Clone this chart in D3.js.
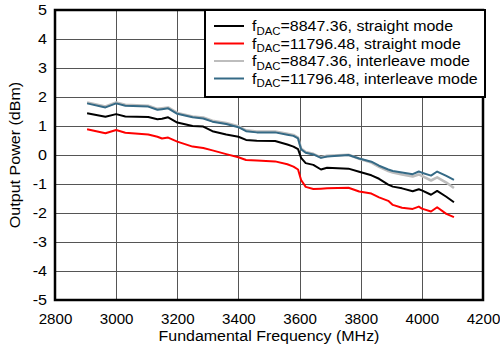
<!DOCTYPE html>
<html>
<head>
<meta charset="utf-8">
<script src="https://cdnjs.cloudflare.com/ajax/libs/d3/7.8.5/d3.min.js"></script>
<style>
  body { margin: 0; background: #fff; }
  svg { font-family: "Liberation Sans", Arial, Helvetica, sans-serif; }
  .grid line { stroke: #555; stroke-width: 1; shape-rendering: crispEdges; }
  .grid path { display: none; }
  .tick text { font-size: 14px; fill: #000; }
</style>
</head>
<body>
<script>
var width = 500;
var height = 349;

// frequency points (MHz)
var freq = [2905, 2965, 3000, 3030, 3105, 3135, 3150, 3170, 3200, 3250, 3285, 3315, 3360, 3400,
  3425, 3460, 3520, 3560, 3580, 3595, 3605, 3620, 3645, 3670, 3690, 3760, 3795, 3835, 3860,
  3890, 3905, 3935, 3970, 3990, 4000, 4030, 4050, 4080, 4105];

// output power (dBm) per series
var straight8847 = [1.44, 1.32, 1.41, 1.33, 1.31, 1.23, 1.25, 1.30, 1.12, 1.00, 0.98, 0.82, 0.71, 0.63,
  0.52, 0.49, 0.48, 0.36, 0.29, 0.20, -0.10, -0.28, -0.34, -0.50, -0.44, -0.47, -0.58, -0.70, -0.82,
  -1.02, -1.09, -1.15, -1.25, -1.18, -1.22, -1.37, -1.24, -1.44, -1.63];
var straight11796 = [0.89, 0.75, 0.86, 0.77, 0.71, 0.63, 0.57, 0.60, 0.46, 0.29, 0.24, 0.16, 0.03, -0.08,
  -0.17, -0.19, -0.22, -0.32, -0.40, -0.50, -0.86, -1.10, -1.17, -1.16, -1.15, -1.13, -1.26, -1.33, -1.46,
  -1.58, -1.72, -1.82, -1.86, -1.78, -1.85, -1.95, -1.80, -2.03, -2.14];
var interleave8847 = [1.81, 1.67, 1.81, 1.73, 1.70, 1.59, 1.61, 1.64, 1.45, 1.33, 1.29, 1.18, 1.10, 0.99,
  0.85, 0.81, 0.81, 0.73, 0.69, 0.60, 0.22, 0.10, 0.04, -0.08, -0.03, 0.01, -0.13, -0.26, -0.41,
  -0.55, -0.60, -0.67, -0.74, -0.67, -0.72, -0.88, -0.77, -0.95, -1.14];
var interleave11796 = [1.78, 1.64, 1.78, 1.70, 1.67, 1.56, 1.58, 1.61, 1.42, 1.30, 1.26, 1.15, 1.07, 0.96,
  0.82, 0.78, 0.78, 0.70, 0.66, 0.57, 0.20, 0.08, 0.02, -0.10, -0.05, 0.00, -0.12, -0.23, -0.37,
  -0.50, -0.55, -0.60, -0.66, -0.57, -0.61, -0.71, -0.57, -0.72, -0.86];

var xTicks = [2800, 3000, 3200, 3400, 3600, 3800, 4000, 4200];
var yTicks = [-5, -4, -3, -2, -1, 0, 1, 2, 3, 4, 5];

// draw order: gray goes under the blue one
var series = [
  {rate: "8847.36", mode: "straight mode", values: straight8847, color: "#000000", w: 2},
  {rate: "11796.48", mode: "straight mode", values: straight11796, color: "#ff0000", w: 2},
  {rate: "8847.36", mode: "interleave mode", values: interleave8847, color: "#bdbdbd", w: 2.6},
  {rate: "11796.48", mode: "interleave mode", values: interleave11796, color: "#356a86", w: 2}
];

var margin = {left: 55, top: 10, right: 17, bottom: 49};
var w = width - margin.left - margin.right;
var h = height - margin.top - margin.bottom;

var x = d3.scaleLinear().domain([2800, 4200]).range([0, w]);
var y = d3.scaleLinear().domain([-5, 5]).range([h, 0]);

// the original lettering is drawn wider than the font, stretch it out
function stretch(sel, k) {
  sel.each(function () {
    var len = this.getComputedTextLength();
    d3.select(this).attr("textLength", len * k).attr("lengthAdjust", "spacingAndGlyphs");
  });
}

var svg = d3.select("body").append("svg")
  .attr("width", width)
  .attr("height", height)
  .append("g")
  .attr("transform", "translate(" + margin.left + "," + margin.top + ")");

// grid + tick labels
var xAxis = svg.append("g")
  .attr("class", "grid")
  .attr("transform", "translate(0," + h + ")")
  .call(d3.axisBottom(x).tickValues(xTicks).tickFormat(function (d) { return d; })
    .tickSizeInner(-h).tickSizeOuter(0).tickPadding(14));

var yAxis = svg.append("g")
  .attr("class", "grid")
  .call(d3.axisLeft(y).tickValues(yTicks).tickFormat(function (d) { return d; })
    .tickSizeInner(-w).tickSizeOuter(0).tickPadding(8));

stretch(xAxis.selectAll("text"), 1.08);
stretch(yAxis.selectAll("text"), 1.15);

// lines
var line = d3.line()
  .x(function (d, i) { return x(freq[i]); })
  .y(function (d) { return y(d); });

series.forEach(function (s) {
  svg.append("path")
    .datum(s.values)
    .attr("d", line)
    .attr("fill", "none")
    .attr("stroke", s.color)
    .attr("stroke-width", s.w)
    .attr("stroke-linejoin", "round");
});

// frame
svg.append("rect")
  .attr("width", w)
  .attr("height", h)
  .attr("fill", "none")
  .attr("stroke", "#000")
  .attr("stroke-width", 2.5);

// axis titles
svg.append("text")
  .attr("x", w / 2)
  .attr("y", h + 41)
  .attr("text-anchor", "middle")
  .style("font-size", "14px")
  .text("Fundamental Frequency (MHz)")
  .call(stretch, 1.14);

svg.append("text")
  .attr("transform", "translate(" + (-35) + "," + (h / 2) + ") rotate(-90)")
  .attr("text-anchor", "middle")
  .style("font-size", "15px")
  .text("Output Power (dBm)")
  .call(stretch, 1.07);

// legend
var legend = svg.append("g").attr("transform", "translate(150,0)");
legend.append("rect")
  .attr("width", 280)
  .attr("height", 87)
  .attr("fill", "#fff")
  .attr("stroke", "#000")
  .attr("stroke-width", 2);

series.forEach(function (s, i) {
  var ly = 16 + i * 17.5;
  legend.append("line")
    .attr("x1", 9).attr("x2", 39)
    .attr("y1", ly).attr("y2", ly)
    .attr("stroke", s.color)
    .attr("stroke-width", 2);
  var t = legend.append("text")
    .attr("x", 47)
    .attr("y", ly + 5)
    .style("font-size", "14px");
  t.append("tspan").text("f");
  t.append("tspan").attr("dy", 3.5).style("font-size", "10px").text("DAC");
  t.append("tspan").attr("dy", -3.5).text("=" + s.rate + ", " + s.mode);
  stretch(t, 1.14);
});
</script>
</body>
</html>
